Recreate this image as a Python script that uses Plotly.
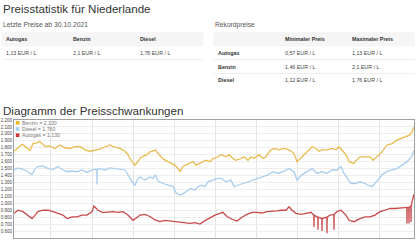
import plotly.graph_objects as go

# ---------------- data ----------------
fuels = ["Autogas", "Benzin", "Diesel"]
latest_date = "30.10.2021"
latest_prices = ["1,13 EUR / L", "2,1 EUR / L", "1,76 EUR / L"]
record_min = ["0,57 EUR / L", "1,46 EUR / L", "1,12 EUR / L"]
record_max = ["1,13 EUR / L", "2,1 EUR / L", "1,76 EUR / L"]

benzin_x = [2012.100, 2012.197, 2012.294, 2012.367, 2012.440, 2012.489, 2012.562, 2012.659, 2012.732, 2012.805,
            2012.854, 2012.976, 2013.097, 2013.219, 2013.341, 2013.462, 2013.584, 2013.706, 2013.827, 2013.949,
            2014.071, 2014.119, 2014.192, 2014.265, 2014.363, 2014.436, 2014.509, 2014.606, 2014.679, 2014.800,
            2014.873, 2014.922, 2014.971, 2015.044, 2015.117, 2015.165, 2015.214, 2015.336, 2015.409, 2015.482,
            2015.530, 2015.603, 2015.725, 2015.847, 2015.920, 2016.017, 2016.090, 2016.139, 2016.212, 2016.285,
            2016.382, 2016.455, 2016.528, 2016.625, 2016.698, 2016.771, 2016.869, 2016.942, 2017.063, 2017.136,
            2017.258, 2017.331, 2017.428, 2017.501, 2017.623, 2017.696, 2017.793, 2017.866, 2017.939, 2018.061,
            2018.158, 2018.231, 2018.280, 2018.353, 2018.426, 2018.547, 2018.669, 2018.791, 2018.912, 2018.985,
            2019.107, 2019.229, 2019.350, 2019.448, 2019.521, 2019.594, 2019.715, 2019.837, 2019.934, 2020.007,
            2020.080, 2020.178, 2020.251, 2020.372, 2020.397, 2020.518, 2020.640, 2020.762, 2020.835, 2020.932,
            2021.054, 2021.175, 2021.297, 2021.418, 2021.540, 2021.662, 2021.735, 2021.783, 2021.832]
benzin_y = [1.75, 1.80, 1.85, 1.82, 1.78, 1.76, 1.86, 1.87, 1.89, 1.85,
            1.82, 1.825, 1.79, 1.84, 1.80, 1.79, 1.815, 1.82, 1.77, 1.75,
            1.76, 1.77, 1.78, 1.80, 1.82, 1.84, 1.815, 1.80, 1.79, 1.75,
            1.70, 1.645, 1.60, 1.55, 1.60, 1.65, 1.67, 1.70, 1.74, 1.75,
            1.77, 1.72, 1.64, 1.60, 1.58, 1.55, 1.50, 1.46, 1.53, 1.55,
            1.575, 1.60, 1.55, 1.575, 1.60, 1.62, 1.60, 1.645, 1.67, 1.70,
            1.67, 1.70, 1.645, 1.62, 1.645, 1.67, 1.62, 1.67, 1.645, 1.70,
            1.645, 1.67, 1.72, 1.77, 1.79, 1.77, 1.79, 1.77, 1.72, 1.60,
            1.67, 1.74, 1.815, 1.79, 1.75, 1.77, 1.77, 1.79, 1.77, 1.815,
            1.77, 1.70, 1.60, 1.575, 1.60, 1.67, 1.67, 1.67, 1.62, 1.67,
            1.74, 1.84, 1.86, 1.91, 1.935, 1.96, 1.985, 2.03, 2.10]

diesel_x = [2012.100, 2012.197, 2012.319, 2012.440, 2012.538, 2012.611, 2012.684, 2012.805, 2012.927, 2013.049,
            2013.170, 2013.292, 2013.389, 2013.511, 2013.633, 2013.754, 2013.876, 2013.998, 2014.095, 2014.115,
            2014.119, 2014.123, 2014.192, 2014.314, 2014.436, 2014.557, 2014.679, 2014.800, 2014.873, 2014.971,
            2015.044, 2015.117, 2015.165, 2015.287, 2015.409, 2015.482, 2015.530, 2015.603, 2015.725, 2015.847,
            2015.968, 2016.041, 2016.139, 2016.212, 2016.333, 2016.406, 2016.504, 2016.577, 2016.650, 2016.747,
            2016.820, 2016.942, 2017.063, 2017.136, 2017.258, 2017.380, 2017.453, 2017.550, 2017.672, 2017.793,
            2017.915, 2018.036, 2018.158, 2018.280, 2018.401, 2018.523, 2018.645, 2018.718, 2018.791, 2018.912,
            2018.985, 2019.107, 2019.229, 2019.350, 2019.472, 2019.594, 2019.715, 2019.837, 2019.959, 2020.056,
            2020.129, 2020.202, 2020.299, 2020.397, 2020.518, 2020.640, 2020.713, 2020.810, 2020.883, 2020.956,
            2021.054, 2021.175, 2021.297, 2021.418, 2021.540, 2021.662, 2021.735, 2021.783, 2021.832]
diesel_y = [1.48, 1.51, 1.49, 1.455, 1.41, 1.50, 1.53, 1.54, 1.50, 1.49,
            1.53, 1.48, 1.455, 1.465, 1.455, 1.48, 1.445, 1.48, 1.49, 1.49,
            1.27, 1.49, 1.50, 1.48, 1.51, 1.50, 1.48, 1.48, 1.41, 1.31,
            1.26, 1.36, 1.38, 1.335, 1.38, 1.36, 1.41, 1.32, 1.285, 1.26,
            1.24, 1.15, 1.12, 1.14, 1.19, 1.215, 1.19, 1.24, 1.26, 1.24,
            1.31, 1.335, 1.36, 1.36, 1.31, 1.335, 1.24, 1.26, 1.285, 1.31,
            1.335, 1.36, 1.38, 1.41, 1.455, 1.43, 1.455, 1.48, 1.50, 1.455,
            1.335, 1.41, 1.455, 1.50, 1.43, 1.455, 1.43, 1.48, 1.48, 1.53,
            1.43, 1.36, 1.285, 1.285, 1.31, 1.285, 1.26, 1.24, 1.285, 1.335,
            1.41, 1.455, 1.48, 1.50, 1.55, 1.60, 1.645, 1.68, 1.76]

autogas_x = [2012.100, 2012.197, 2012.319, 2012.440, 2012.538, 2012.611, 2012.684, 2012.805, 2012.927, 2013.049,
             2013.170, 2013.292, 2013.389, 2013.511, 2013.633, 2013.754, 2013.876, 2013.998, 2014.046, 2014.144,
             2014.265, 2014.387, 2014.509, 2014.630, 2014.752, 2014.873, 2014.995, 2015.117, 2015.165, 2015.287,
             2015.409, 2015.530, 2015.652, 2015.774, 2015.895, 2016.017, 2016.139, 2016.260, 2016.382, 2016.504,
             2016.625, 2016.747, 2016.869, 2016.990, 2017.112, 2017.185, 2017.282, 2017.404, 2017.526, 2017.647,
             2017.769, 2017.891, 2018.012, 2018.134, 2018.255, 2018.377, 2018.499, 2018.596, 2018.718, 2018.791,
             2018.864, 2018.961, 2019.083, 2019.204, 2019.326, 2019.395, 2019.399, 2019.403, 2019.472, 2019.492,
             2019.496, 2019.500, 2019.590, 2019.594, 2019.598, 2019.711, 2019.715, 2019.719, 2019.788, 2019.882,
             2019.886, 2019.890, 2019.959, 2020.056, 2020.178, 2020.251, 2020.372, 2020.518, 2020.640, 2020.762,
             2020.883, 2021.005, 2021.127, 2021.248, 2021.370, 2021.491, 2021.613, 2021.658, 2021.662, 2021.666,
             2021.706, 2021.710, 2021.714, 2021.755, 2021.759, 2021.763, 2021.783, 2021.832]
autogas_y = [0.855, 0.90, 0.88, 0.83, 0.78, 0.83, 0.88, 0.90, 0.90, 0.88,
             0.855, 0.83, 0.78, 0.805, 0.805, 0.83, 0.83, 0.88, 0.96, 0.90,
             0.865, 0.87, 0.88, 0.87, 0.88, 0.83, 0.755, 0.805, 0.83, 0.84,
             0.81, 0.76, 0.735, 0.755, 0.745, 0.735, 0.72, 0.72, 0.71, 0.72,
             0.70, 0.75, 0.79, 0.83, 0.855, 0.87, 0.81, 0.77, 0.745, 0.80,
             0.84, 0.87, 0.87, 0.86, 0.88, 0.88, 0.89, 0.90, 0.90, 0.95,
             0.90, 0.855, 0.84, 0.855, 0.87, 0.83, 0.66, 0.83, 0.805, 0.805,
             0.62, 0.80, 0.78, 0.60, 0.78, 0.80, 0.57, 0.80, 0.83, 0.84,
             0.62, 0.84, 0.88, 0.90, 0.83, 0.755, 0.735, 0.78, 0.805, 0.805,
             0.83, 0.88, 0.90, 0.925, 0.925, 0.935, 0.935, 0.94, 0.71, 0.94,
             0.94, 0.71, 0.94, 0.96, 0.73, 0.96, 1.02, 1.13]

series_names = ["Benzin", "Diesel", "Autogas"]
series_last = [2.100, 1.760, 1.130]
line_colors = ["#e9bb4f", "#a9cdee", "#c94a4a"]
legend_colors = ["#f2b41c", "#a8d2f5", "#d03535"]

year_grid = list(range(2013, 2022))
y_ticks = [0.5 + 0.1 * i for i in range(18)]

# ---------------- layout helpers ----------------
W, H = 417, 240
ML, MR, MT, MB = 14, 3, 120, 2
PW, PH = W - ML - MR, H - MT - MB
FONT = "Arial, 'Liberation Sans', sans-serif"


def fx(x):
    return (x - ML) / PW


def fy(y):
    return (H - MB - y) / PH


annotations = []
shapes = []


def text(x, y, s, size, color="#444", anchor="left"):
    annotations.append(dict(x=fx(x), y=fy(y), xref="paper", yref="paper", text=s, showarrow=False,
                            xanchor=anchor, yanchor="middle", borderpad=0,
                            font=dict(family=FONT, size=size, color=color)))


def rect(x0, y0, x1, y1, color):
    shapes.append(dict(type="rect", xref="paper", yref="paper", x0=fx(x0), x1=fx(x1), y0=fy(y0), y1=fy(y1),
                       line=dict(width=0), fillcolor=color, layer="below"))


def hline(x0, x1, y, color):
    shapes.append(dict(type="line", xref="paper", yref="paper", x0=fx(x0), x1=fx(x1), y0=fy(y), y1=fy(y),
                       line=dict(width=1, color=color)))


# titles
text(1.5, 8.8, "Preisstatistik für Niederlande", 11.6, "#333")
text(1.5, 25, "Letzte Preise ab " + latest_date, 6.8, "#555")
text(213.5, 25, "Rekordpreise", 6.7, "#555")
text(1.5, 110.5, "Diagramm der Preisschwankungen", 11.6, "#333")

# left table
rect(1.7, 32, 203.3, 46.5, "#f5f5f5")
hline(1.7, 203.3, 59.5, "#eeeeee")
left_cols = [5, 71.7, 139]
for cx, name, price in zip(left_cols, fuels, latest_prices):
    text(cx, 39.3, "<b>" + name + "</b>", 5.3, "#333")
    text(cx, 52.7, price, 5.3, "#444")

# right table
rect(213.5, 32, 415, 46.5, "#f5f5f5")
text(284, 39.3, "<b>Minimaler Preis</b>", 5.4, "#333")
text(351, 39.3, "<b>Maximaler Preis</b>", 5.4, "#333")
row_y = [52.7, 66.5, 80.2]
order = [0, 1, 2]
for ry, i in zip(row_y, order):
    text(216.8, ry, "<b>" + fuels[i] + "</b>", 5.4, "#333")
    text(284, ry, record_min[i], 5.3, "#444")
    text(351, ry, record_max[i], 5.3, "#444")
hline(213.5, 415, 59.6, "#eeeeee")
hline(213.5, 415, 73.4, "#eeeeee")

# ---------------- figure ----------------
fig = go.Figure()
for name, xs, ys, col in zip(series_names, [benzin_x, diesel_x, autogas_x], [benzin_y, diesel_y, autogas_y],
                             line_colors):
    fig.add_trace(go.Scatter(x=xs, y=ys, mode="lines", name=name, line=dict(color=col, width=1.3),
                             showlegend=False, hoverinfo="skip"))

# custom legend
leg_y = [122.8, 129.0, 135.2]
for ly, name, val, col in zip(leg_y, series_names, series_last, legend_colors):
    shapes.append(dict(type="rect", xref="paper", yref="paper", x0=fx(15.8), x1=fx(19.4), y0=fy(ly - 1.8),
                       y1=fy(ly + 1.8), line=dict(width=0), fillcolor=col))
    text(21, ly, f"{name} = {val:.3f}", 5.2, "#777")

fig.update_layout(
    width=W, height=H,
    margin=dict(l=ML, r=MR, t=MT, b=MB, autoexpand=False),
    paper_bgcolor="white", plot_bgcolor="white",
    showlegend=False,
    annotations=annotations, shapes=shapes,
    xaxis=dict(range=[2012.100, 2021.832], tickvals=year_grid, showticklabels=False, ticks="",
               showgrid=True, gridcolor="#e4e4e4", gridwidth=1, zeroline=False,
               showline=True, mirror=True, linecolor="#a0a0a0", linewidth=1),
    yaxis=dict(range=[0.5, 2.2], tickvals=y_ticks, tickformat=".3f", ticks="",
               tickfont=dict(family=FONT, size=4.5, color="#444"),
               showgrid=True, gridcolor="#ededed", gridwidth=1, zeroline=False,
               showline=True, mirror=True, linecolor="#a0a0a0", linewidth=1),
)

fig.write_html("out.html")
